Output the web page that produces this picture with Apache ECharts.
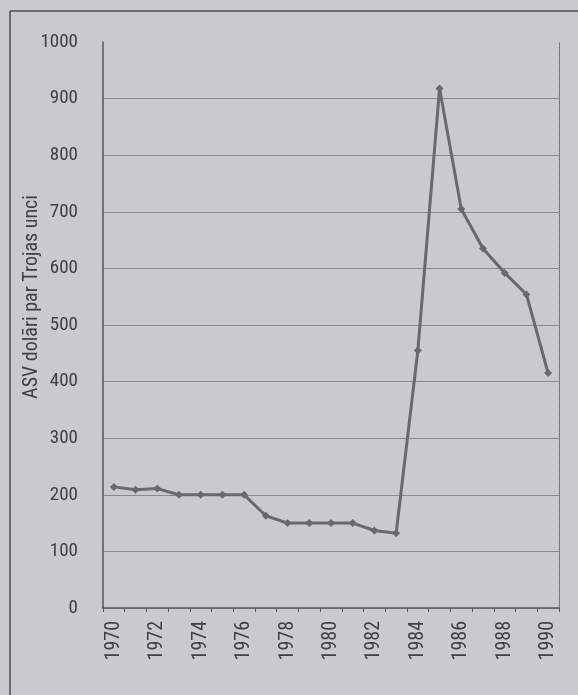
<!DOCTYPE html>
<html>
<head>
<meta charset="utf-8">
<script src="https://cdn.jsdelivr.net/npm/echarts@6/dist/echarts.min.js"></script>
<style>
html,body{margin:0;padding:0;background:#c9cacf;}
#c{width:578px;height:695px;}
</style>
</head>
<body>
<div id="c"></div>
<script>
var years = ['1970','1971','1972','1973','1974','1975','1976','1977','1978','1979','1980','1981','1982','1983','1984','1985','1986','1987','1988','1989','1990'];
var goldPrice = [214,209,211,200,200,200,200,163,150,150,150,150,137,132,455,918,705,635,592,554,415];
var yTicks = [0,100,200,300,400,500,600,700,800,900,1000];
var yAxisTitle = 'ASV dolāri par Trojas unci';

var FONT = '"Roboto Condensed", "DejaVu Sans Condensed", sans-serif';
var chart = echarts.init(document.getElementById('c'), null, {renderer:'canvas'});
var splitColors = yTicks.map(function(v, i){ return i === yTicks.length - 1 ? 'rgba(0,0,0,0)' : '#8a8a8d'; });

chart.setOption({
  backgroundColor: '#c9cacf',
  animation: false,
  grid: {left: 103, top: 42, right: 19, bottom: 87, containLabel: false},
  xAxis: [{
    type: 'category',
    data: years,
    boundaryGap: true,
    axisLine: {lineStyle: {color: '#555557', width: 1.5}},
    axisTick: {show: true, interval: 0, length: 4, lineStyle: {color: '#555557'}},
    axisLabel: {interval: 1, rotate: 90, color: '#404042', fontFamily: FONT, fontSize: 20, margin: 13},
    splitLine: {show: false}
  }, {
    type: 'category',
    data: years,
    position: 'top',
    axisLine: {show: true, lineStyle: {color: '#6a6a6c', type: 'dotted', width: 1}},
    axisTick: {show: false},
    axisLabel: {show: false}
  }],
  yAxis: [{
    type: 'value',
    min: 0, max: 1000, interval: 100,
    axisLine: {show: true, lineStyle: {color: '#555557', width: 1.5}},
    axisTick: {show: false},
    axisLabel: {color: '#404042', fontFamily: FONT, fontSize: 19, margin: 25,
      formatter: function(v){ return String(v); }},
    splitLine: {show: true, lineStyle: {color: splitColors, width: 1}}
  }, {
    type: 'value',
    min: 0, max: 1000, interval: 100,
    position: 'right',
    axisLine: {show: true, lineStyle: {color: '#6a6a6c', type: 'dotted', width: 1}},
    axisTick: {show: false},
    axisLabel: {show: false},
    splitLine: {show: false}
  }],
  graphic: [
    {type: 'line', shape: {x1: 10, y1: 11, x2: 578, y2: 11}, style: {stroke: '#4a4a4c', lineWidth: 1.5}},
    {type: 'line', shape: {x1: 10, y1: 11, x2: 10, y2: 695}, style: {stroke: '#4a4a4c', lineWidth: 1.5}},
    {type: 'text', x: 32, y: 297, rotation: Math.PI/2,
      style: {text: yAxisTitle, fill: '#404042', font: '20px ' + FONT, textAlign: 'center', textVerticalAlign: 'middle'}}
  ],
  series: [{
    type: 'line',
    data: goldPrice,
    xAxisIndex: 0, yAxisIndex: 0,
    symbol: 'diamond',
    symbolSize: 8,
    lineStyle: {color: '#69696b', width: 3},
    itemStyle: {color: '#69696b'}
  }]
});
</script>
</body>
</html>
